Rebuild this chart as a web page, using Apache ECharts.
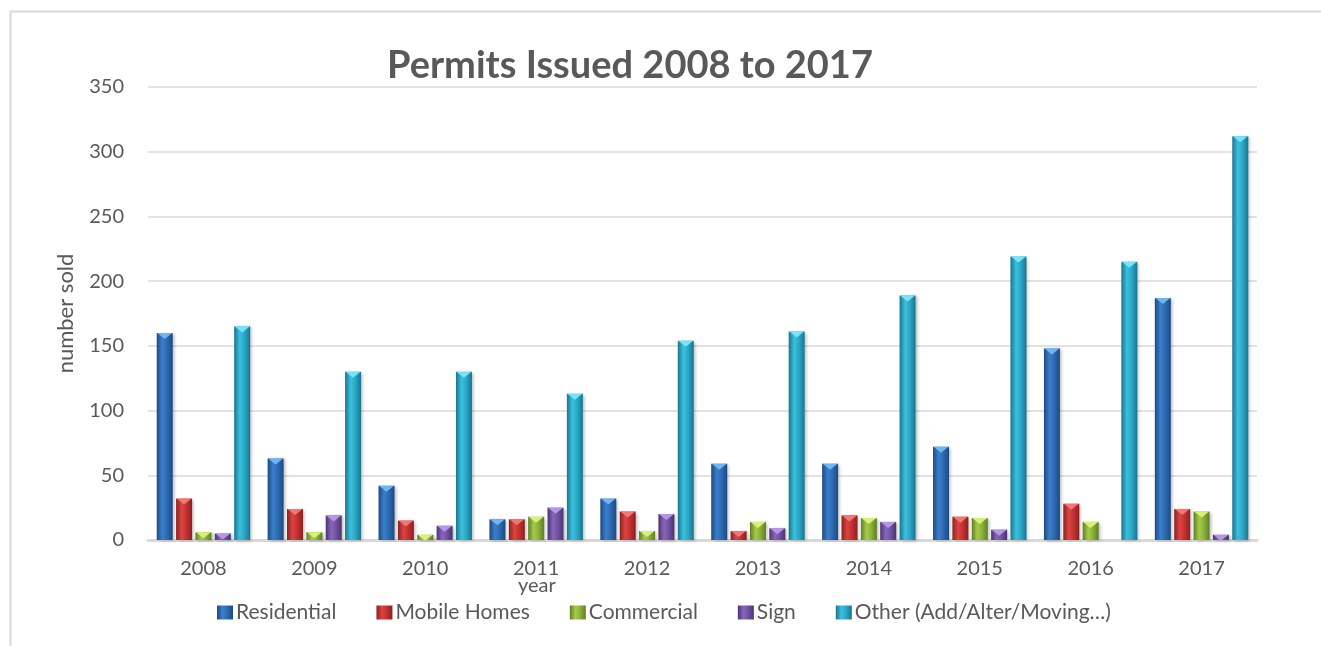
<!DOCTYPE html>
<html>
<head>
<meta charset="utf-8">
<script src="https://cdn.jsdelivr.net/npm/echarts@6/dist/echarts.min.js"></script>
<style>
html,body{margin:0;padding:0;background:#fff;}
#c{width:1321px;height:646px;}
</style>
</head>
<body>
<div id="c"></div>
<script>
var years = ['2008','2009','2010','2011','2012','2013','2014','2015','2016','2017'];
var residential = [160, 63, 42, 16, 32, 59, 59, 72, 148, 187];
var mobileHomes = [32, 24, 15, 16, 22, 7, 19, 18, 28, 24];
var commercial  = [6, 6, 4, 18, 7, 14, 17, 17, 14, 22];
var sign        = [5, 19, 11, 25, 20, 9, 14, 8, 0, 4];
var other       = [165, 130, 130, 113, 154, 161, 189, 219, 215, 312];
var seriesNames = ['Residential', 'Mobile Homes', 'Commercial', 'Sign', 'Other (Add/Alter/Moving…)'];
var yTicks = [0, 50, 100, 150, 200, 250, 300, 350];

var palette = [
  {edge:'#1d4a82', mid:'#3a7fcc', main:'#2d69b0', cap:'#74b8f2'},
  {edge:'#8a2120', mid:'#dc4442', main:'#c3302e', cap:'#f27a78'},
  {edge:'#5f7e22', mid:'#a6cb4a', main:'#8bb03a', cap:'#dcf27a'},
  {edge:'#4b3370', mid:'#8866bb', main:'#7152a2', cap:'#b99ae6'},
  {edge:'#17768f', mid:'#3cc0dd', main:'#2aa6c6', cap:'#7ae6fa'}
];
var allData = [residential, mobileHomes, commercial, sign, other];
var FONT = 'Lato, "Open Sans", sans-serif';
var TXT = '#595959';

function grad(p){
  return new echarts.graphic.LinearGradient(0,0,1,0,[
    {offset:0, color:p.edge},
    {offset:0.35, color:p.mid},
    {offset:0.65, color:p.main},
    {offset:1, color:p.edge}
  ]);
}

var series = [];
allData.forEach(function(d, i){
  series.push({
    type:'bar', name: seriesNames[i], data: d,
    barWidth: 16, barGap: '21%',
    itemStyle:{color: grad(palette[i]), shadowColor:'rgba(0,0,0,0.25)', shadowBlur:3, shadowOffsetX:2, shadowOffsetY:1},
    emphasis:{disabled:true}
  });
});
allData.forEach(function(d, i){
  series.push({
    type:'pictorialBar', name: seriesNames[i],
    data: d.map(function(v){ return v === 0 ? null : v; }),
    barWidth: 16, barGap: '21%',
    symbol: 'path://M0,0 L2,0 L1,1 Z',
    symbolSize: [15, 6],
    symbolPosition: 'end',
    itemStyle:{color: palette[i].cap, opacity: 0.95},
    z: 3, silent: true,
    emphasis:{disabled:true}
  });
});

var chart = echarts.init(document.getElementById('c'));
chart.setOption({
  backgroundColor:'#fff',
  animation:false,
  textStyle:{fontFamily: FONT},
  title:[
    {text:'Permits Issued 2008 to 2017', left:382, top:42,
     textStyle:{fontFamily:FONT, fontSize:38, fontWeight:'bold', color:TXT}},
    {text:'year', left:513, top:571,
     textStyle:{fontFamily:FONT, fontSize:20, fontWeight:'normal', color:TXT}}
  ],
  graphic:[
    {type:'rect', left:8, top:9, shape:{width:1400, height:700}, style:{fill:'none', stroke:'#d9d9d9', lineWidth:2}, silent:true}
  ],
  legend:{
    data: seriesNames,
    left: 212, top: 597,
    itemWidth: 16, itemHeight: 14, itemGap: 40,
    icon:'rect',
    textStyle:{fontFamily:FONT, fontSize:21, color:TXT, padding:[0,0,0,-2]}
  },
  grid:{left:148, right:64, top:87, bottom:106},
  xAxis:{
    type:'category', data: years,
    axisLine:{lineStyle:{color:'#d9d9d9', width:3}},
    axisTick:{show:false},
    axisLabel:{fontFamily:FONT, fontSize:20, color:TXT, margin:19}
  },
  yAxis:{
    type:'value', min:yTicks[0], max:yTicks[yTicks.length-1], interval:50,
    name:'number sold', nameLocation:'middle', nameGap:71,
    nameTextStyle:{fontFamily:FONT, fontSize:22, color:TXT},
    axisLine:{show:false}, axisTick:{show:false},
    axisLabel:{fontFamily:FONT, fontSize:20, color:TXT, margin:24},
    splitLine:{lineStyle:{color:'#d9d9d9', width:1.5}}
  },
  series: series
});
</script>
</body>
</html>
